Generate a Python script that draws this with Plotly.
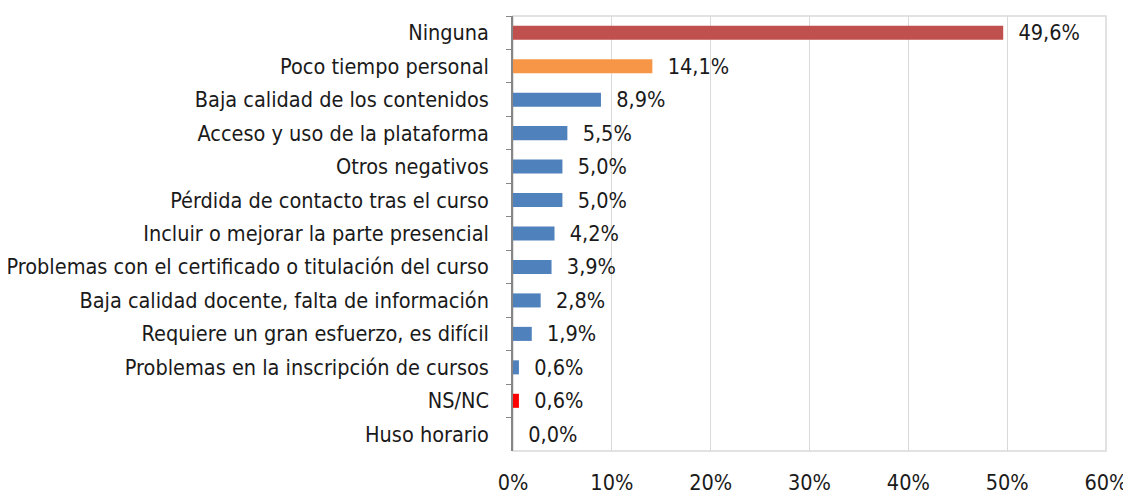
import plotly.graph_objects as go

categories = [
    "Ninguna",
    "Poco tiempo personal",
    "Baja calidad de los contenidos",
    "Acceso y uso de la plataforma",
    "Otros negativos",
    "Pérdida de contacto tras el curso",
    "Incluir o mejorar la parte presencial",
    "Problemas con el certificado o titulación del curso",
    "Baja calidad docente, falta de información",
    "Requiere un gran esfuerzo, es difícil",
    "Problemas en la inscripción de cursos",
    "NS/NC",
    "Huso horario",
]
values = [49.6, 14.1, 8.9, 5.5, 5.0, 5.0, 4.2, 3.9, 2.8, 1.9, 0.6, 0.6, 0.0]
x_ticks = [0, 10, 20, 30, 40, 50, 60]
x_tick_labels = [f"{t}%" for t in x_ticks]

BLUE = "#4F81BD"
bar_colors = ["#C0504D", "#F79646"] + [BLUE] * 9 + ["#FF0000", BLUE]

FONT = "Liberation Sans Narrow, Arial Narrow, DejaVu Sans Condensed, sans-serif"
SIZE = 21.5

labels = ["\u00a0\u00a0" + f"{v:.1f}".replace(".", ",") + "%" for v in values]

fig = go.Figure(
    go.Bar(
        x=values,
        y=categories,
        orientation="h",
        marker=dict(color=bar_colors, line=dict(width=0)),
        width=0.42,
        text=labels,
        textposition="outside",
        constraintext="none",
        textfont=dict(family=FONT, size=SIZE, color="#1a1a1a"),
        cliponaxis=False,
        hoverinfo="x+y",
    )
)

# the page body adds an 8px offset, so margins are shifted by that amount
fig.update_layout(
    width=1131,
    height=493,
    margin=dict(l=505, r=33, t=8, b=50, autoexpand=False),
    plot_bgcolor="white",
    paper_bgcolor="white",
    font=dict(family=FONT, size=SIZE, color="#1a1a1a"),
    showlegend=False,
    shapes=[
        dict(type="rect", xref="paper", yref="paper", x0=0, x1=1, y0=0, y1=1,
             line=dict(color="#D9D9D9", width=1.5), layer="below")
    ],
)
fig.update_xaxes(
    range=[0, 60],
    tickvals=x_ticks,
    ticktext=x_tick_labels,
    showgrid=True,
    gridcolor="#D9D9D9",
    gridwidth=1,
    zeroline=False,
    showline=False,
    ticks="",
    ticklabelstandoff=16,
    automargin=False,
)
fig.update_yaxes(
    autorange="reversed",
    showgrid=False,
    showline=True,
    linecolor="#868686",
    linewidth=1.5,
    ticks="outside",
    tickson="boundaries",
    ticklen=5,
    tickcolor="#868686",
    ticklabelstandoff=18,
    automargin=False,
)

fig.write_html("out.html")
